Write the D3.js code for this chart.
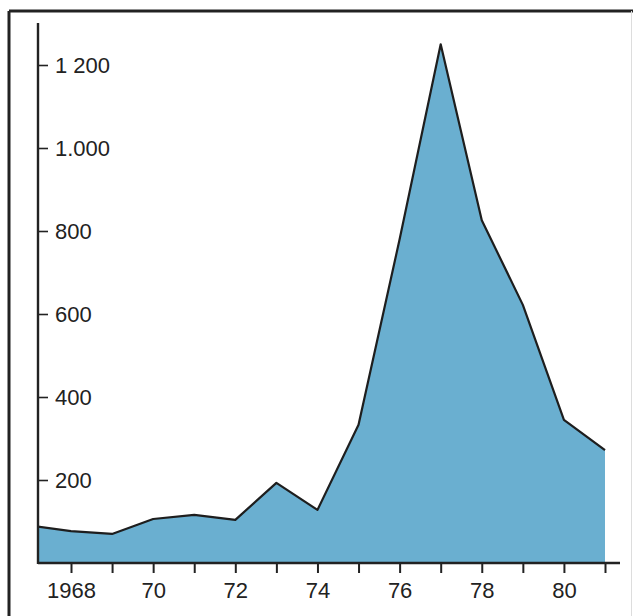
<!DOCTYPE html>
<meta charset="utf-8">
<style>
body { margin: 0; background: #fff; }
text { font-family: "Liberation Sans", Arial, sans-serif; fill: #222; }
</style>
<script src="https://d3js.org/d3.v7.min.js"></script>
<svg width="633" height="616"></svg>
<script>

// yearly values (1967 is cut off by the axis)
var years  = [1967, 1968, 1969, 1970, 1971, 1972, 1973, 1974, 1975, 1976, 1977, 1978, 1979, 1980, 1981];
var values = [90, 77, 70, 106, 116, 104, 193, 128, 333, 780, 1250, 826, 622, 345, 272];

var yTicks = [200, 400, 600, 800, 1000, 1200];
var yTickLabels = ["200", "400", "600", "800", "1.000", "1 200"];
var xTicks = d3.range(1968, 1982);
var xTickLabels = {1968: "1968", 1970: "70", 1972: "72", 1974: "74", 1976: "76", 1978: "78", 1980: "80"};

var data = years.map(function(d, i) { return {year: d, value: values[i]}; });

var svg = d3.select("svg");

var x = d3.scaleLinear()
    .domain([1968, 1981])
    .range([71, 605]);

var y = d3.scaleLinear()
    .domain([0, 1200])
    .range([563, 65]);

var left = 38, bottom = 563;

// frame
svg.append("line").attr("x1", 9).attr("y1", 11).attr("x2", 633).attr("y2", 11)
    .attr("stroke", "#222").attr("stroke-width", 3);
svg.append("line").attr("x1", 9).attr("y1", 11).attr("x2", 9).attr("y2", 616)
    .attr("stroke", "#222").attr("stroke-width", 3);
svg.append("line").attr("x1", 631.5).attr("y1", 11).attr("x2", 631.5).attr("y2", 616)
    .attr("stroke", "#ddd").attr("stroke-width", 1);

svg.append("clipPath").attr("id", "clip")
  .append("rect")
    .attr("x", left).attr("y", 0)
    .attr("width", 633 - left).attr("height", bottom);

var area = d3.area()
    .x(function(d) { return x(d.year); })
    .y0(y(0))
    .y1(function(d) { return y(d.value); });

var line = d3.line()
    .x(function(d) { return x(d.year); })
    .y(function(d) { return y(d.value); });

var g = svg.append("g").attr("clip-path", "url(#clip)");

g.append("path")
    .datum(data)
    .attr("fill", "#6aafd0")
    .attr("d", area);

g.append("path")
    .datum(data)
    .attr("fill", "none")
    .attr("stroke", "#1e1e1e")
    .attr("stroke-width", 2.2)
    .attr("stroke-linejoin", "round")
    .attr("d", line);

// y axis: ticks point inwards, labels to the right
var yAxis = svg.append("g")
    .attr("transform", "translate(" + left + ",0)")
    .call(d3.axisRight(y)
        .tickValues(yTicks)
        .tickSize(10)
        .tickPadding(7)
        .tickFormat(function(d) { return yTickLabels[yTicks.indexOf(d)]; }));
yAxis.select(".domain").remove();
yAxis.selectAll(".tick line").attr("stroke", "#222").attr("stroke-width", 1.6);
yAxis.selectAll("text").attr("font-size", 22).attr("fill", "#222");

svg.append("line")
    .attr("x1", left).attr("x2", left)
    .attr("y1", 23).attr("y2", bottom + 1)
    .attr("stroke", "#222").attr("stroke-width", 2.4);

// x axis
var xAxis = svg.append("g")
    .attr("transform", "translate(0," + bottom + ")")
    .call(d3.axisBottom(x)
        .tickValues(xTicks)
        .tickSize(10)
        .tickPadding(9)
        .tickFormat(function(d) { return xTickLabels[d] || ""; }));
xAxis.select(".domain").remove();
xAxis.selectAll(".tick line").attr("stroke", "#222").attr("stroke-width", 2);
xAxis.selectAll("text").attr("font-size", 22).attr("fill", "#222");

svg.append("line")
    .attr("x1", left).attr("x2", 620)
    .attr("y1", bottom).attr("y2", bottom)
    .attr("stroke", "#222").attr("stroke-width", 2.4);

</script>
